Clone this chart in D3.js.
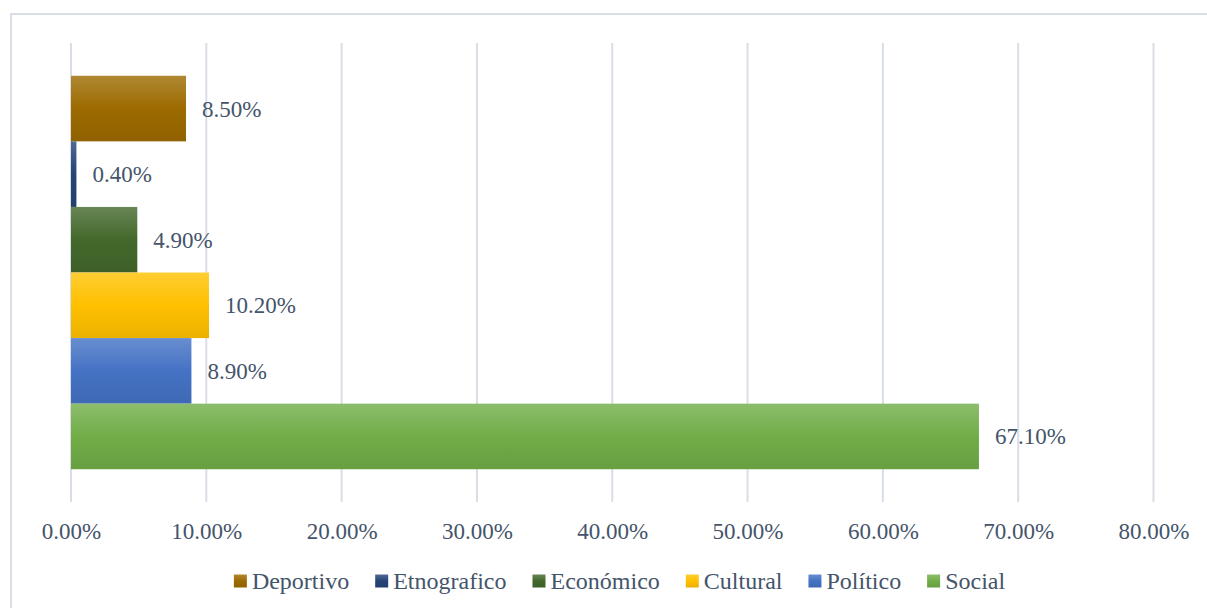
<!DOCTYPE html>
<html>
<head>
<meta charset="utf-8">
<script src="https://cdn.jsdelivr.net/npm/d3@7"></script>
<style>
  html, body { margin: 0; padding: 0; background: #fff; }
  svg text { font-family: "Liberation Serif", "Times New Roman", serif; fill: #44546A; }
</style>
</head>
<body>
<svg id="chart" width="1207" height="608"></svg>
<script>
// series (top to bottom as drawn)
let series = ["Deportivo", "Etnografico", "Económico", "Cultural", "Político", "Social"];
let values = [8.5, 0.4, 4.9, 10.2, 8.9, 67.1];
let baseColors = ["#9C6A00", "#264478", "#43682B", "#FFC000", "#4472C4", "#70AD47"];
let ticks = [0, 10, 20, 30, 40, 50, 60, 70, 80];

let svg = d3.select("#chart");
let opt = {
    left: 71, right: 1153.5,
    top: 43, bottom: 502,
    fontSize: 23,
    legendSize: 24
};

// chart frame
svg.append("rect")
    .attr("x", 11).attr("y", 14)
    .attr("width", 1220).attr("height", 620)
    .style("fill", "none")
    .style("stroke", "#D9DEE6")
    .style("stroke-width", 2);

// gradients, lighter on top like the office style
let defs = svg.append("defs");
baseColors.forEach((c, i) => {
    let g = defs.append("linearGradient")
        .attr("id", "grad" + i)
        .attr("x1", 0).attr("y1", 0).attr("x2", 0).attr("y2", 1);
    let top = d3.interpolateRgb(c, "#ffffff")(0.2);
    let bot = d3.interpolateRgb(c, "#000000")(0.08);
    g.append("stop").attr("offset", "0%").attr("stop-color", top);
    g.append("stop").attr("offset", "50%").attr("stop-color", c);
    g.append("stop").attr("offset", "100%").attr("stop-color", bot);
});

let x = d3.scaleLinear().domain([0, 80]).range([opt.left, opt.right]);
let y = d3.scaleBand().domain(series).range([opt.top, opt.bottom])
    .paddingInner(0).paddingOuter(0.5);

// grid
svg.append("g").selectAll("line")
    .data(ticks)
    .enter().append("line")
    .attr("x1", d => x(d)).attr("x2", d => x(d))
    .attr("y1", opt.top).attr("y2", opt.bottom)
    .style("stroke", "#D9DEE6")
    .style("stroke-width", 2);

// axis labels
let axis = d3.axisBottom(x).tickValues(ticks)
    .tickFormat(d => d.toFixed(2) + "%")
    .tickSize(0).tickPadding(0);
let ax = svg.append("g")
    .attr("transform", "translate(0," + opt.bottom + ")")
    .call(axis);
ax.select(".domain").remove();
ax.selectAll("text")
    .attr("y", 29)
    .attr("dy", "0.35em")
    .style("font-size", opt.fontSize + "px")
    .style("font-family", "Liberation Serif, serif")
    .style("fill", "#44546A");

// bars
svg.append("g").selectAll("rect")
    .data(values)
    .enter().append("rect")
    .attr("x", x(0))
    .attr("y", (d, i) => y(series[i]))
    .attr("width", d => x(d) - x(0))
    .attr("height", y.bandwidth())
    .style("fill", (d, i) => "url(#grad" + i + ")");

// data labels
svg.append("g").selectAll("text")
    .data(values)
    .enter().append("text")
    .attr("x", d => x(d) + 16)
    .attr("y", (d, i) => y(series[i]) + y.bandwidth() / 2)
    .attr("dy", "0.35em")
    .style("font-size", opt.fontSize + "px")
    .text(d => d.toFixed(2) + "%");

// legend
let legend = svg.append("g");
let lx = 0;
series.forEach((s, i) => {
    let item = legend.append("g").attr("transform", "translate(" + lx + ",0)");
    item.append("rect")
        .attr("x", 0).attr("y", -6.5)
        .attr("width", 13).attr("height", 13)
        .style("fill", "url(#grad" + i + ")");
    let t = item.append("text")
        .attr("x", 18).attr("dy", "0.35em")
        .style("font-size", opt.legendSize + "px")
        .text(s);
    lx += 18 + t.node().getComputedTextLength() + 26;
});
let legendW = lx - 26;
legend.attr("transform", "translate(" + (619.5 - legendW / 2) + ",581)");
</script>
</body>
</html>
